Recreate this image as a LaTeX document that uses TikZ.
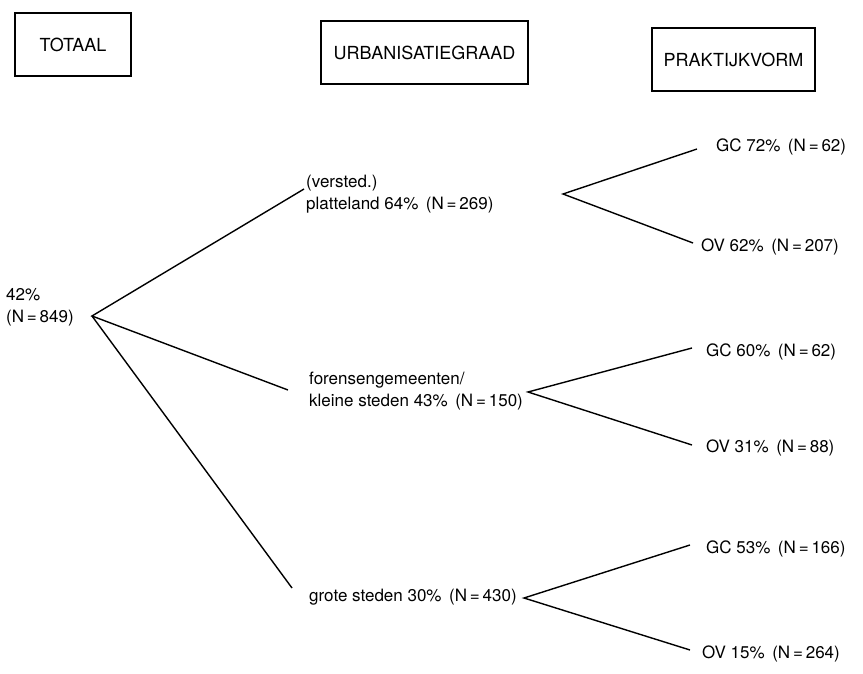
\documentclass[tikz,border=0pt]{standalone}
\usepackage{fontspec}
\setmainfont{TeX Gyre Heros}
\begin{document}
\begin{tikzpicture}[x=1pt,y=-1pt,
  lbl/.style={font=\fontsize{17}{22}\selectfont, inner sep=0pt, anchor=west, align=left},
  hdr/.style={draw, line width=1.3pt, font=\fontsize{18}{22}\selectfont, minimum height=63pt, inner sep=0pt},
  br/.style={line width=1.4pt}]
\useasboundingbox (0,0) rectangle (863,674);
% header boxes
\node[hdr, minimum width=116pt] (tot) at (73,44.5) {TOTAAL};
\node[hdr, minimum width=207pt] (urb) at (424.5,52.5) {URBANISATIEGRAAD};
\node[hdr, minimum width=163pt] (prak) at (733.5,59.5) {PRAKTIJKVORM};
% root
\node[lbl] (root) at (6,307) {42\%\\(N\,=\,849)};
\coordinate (r) at (92,316);
% level 2
\node[lbl] (plat) at (306,194) {(versted.)\\platteland 64\%\, (N\,=\,269)};
\node[lbl] (fore) at (309,391) {forensengemeenten/\\kleine steden 43\%\, (N\,=\,150)};
\node[lbl] (grot) at (309,597) {grote steden 30\%\, (N\,=\,430)};
\coordinate (e1) at (304,189);
\coordinate (e2) at (288,390);
\coordinate (e3) at (292,588);
\draw[br] (e1) -- (r) -- (e2);
\draw[br] (r) -- (e3);
% level 3 vertices and ends
\coordinate (v1) at (563,194);
\coordinate (v1a) at (697,149);
\coordinate (v1b) at (693,243);
\coordinate (v2) at (528,392);
\coordinate (v2a) at (692,348);
\coordinate (v2b) at (692,445);
\coordinate (v3) at (524,598);
\coordinate (v3a) at (690,545);
\coordinate (v3b) at (690,650);
\draw[br] (v1a) -- (v1) -- (v1b);
\draw[br] (v2a) -- (v2) -- (v2b);
\draw[br] (v3a) -- (v3) -- (v3b);
\node[lbl] (gc1) at (716,147) {GC 72\%\, (N\,=\,62)};
\node[lbl] (ov1) at (701,247) {OV 62\%\, (N\,=\,207)};
\node[lbl] (gc2) at (706,352) {GC 60\%\, (N\,=\,62)};
\node[lbl] (ov2) at (706,448) {OV 31\%\, (N\,=\,88)};
\node[lbl] (gc3) at (706,549) {GC 53\%\, (N\,=\,166)};
\node[lbl] (ov3) at (702,654) {OV 15\%\, (N\,=\,264)};
\end{tikzpicture}
\end{document}
